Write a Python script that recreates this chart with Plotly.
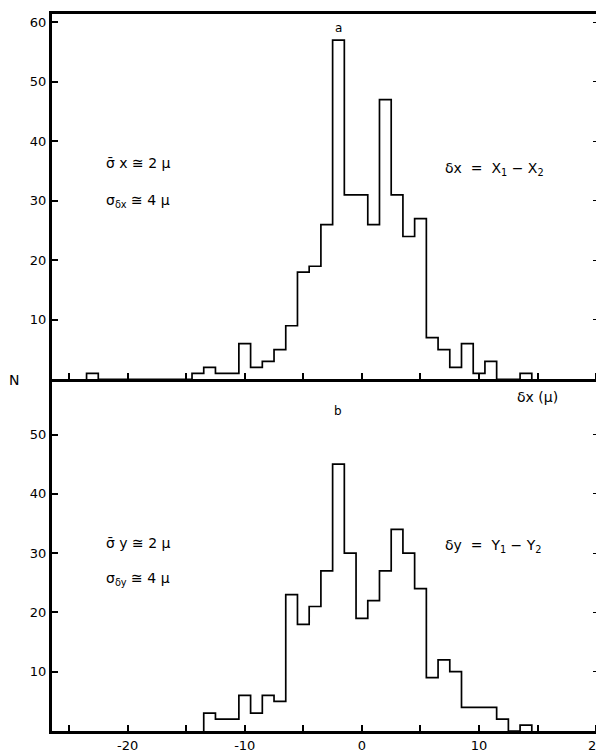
import plotly.graph_objects as go

# ---- data ----
# panel a: delta x histogram, 1-micron bins centred on integers
bins_a = list(range(-23, 15))
counts_a = [1, 0, 0, 0, 0, 0, 0, 0, 0, 1, 2, 1, 1, 6, 2, 3, 5, 9, 18, 19, 26,
            57, 31, 31, 26, 47, 31, 24, 27, 7, 5, 2, 6, 1, 3, 0, 0, 1]
# panel b: delta y histogram
bins_b = list(range(-13, 15))
counts_b = [3, 2, 2, 6, 3, 6, 5, 23, 18, 21, 27, 45, 30, 19, 22, 27, 34, 30,
            24, 9, 12, 10, 4, 4, 4, 2, 0, 1]

x_ticks = [-25, -20, -15, -10, -5, 0, 5, 10, 15, 20]
x_ticktext = ["", "-20", "", "-10", "", "0", "", "10", "", "20"]
y_ticks_a = [10, 20, 30, 40, 50, 60]
y_ticks_b = [10, 20, 30, 40, 50]


def step_xy(centers, counts, width=1.0):
    edges = [c - width / 2 for c in centers] + [centers[-1] + width / 2]
    xs = [edges[0]] + edges
    ys = [0] + list(counts) + [0]
    return xs, ys


FONT = "DejaVu Sans"
fig = go.Figure()

xa, ya = step_xy(bins_a, counts_a)
xb, yb = step_xy(bins_b, counts_b)
fig.add_trace(go.Scatter(x=xa, y=ya, mode="lines", line=dict(shape="hv", color="black", width=1.7),
                         xaxis="x", yaxis="y", showlegend=False, hoverinfo="skip"))
fig.add_trace(go.Scatter(x=xb, y=yb, mode="lines", line=dict(shape="hv", color="black", width=1.7),
                         xaxis="x2", yaxis="y2", showlegend=False, hoverinfo="skip"))
# empty traces so the right-hand tick axes are drawn
fig.add_trace(go.Scatter(x=[], y=[], xaxis="x", yaxis="y3", showlegend=False, hoverinfo="skip"))
fig.add_trace(go.Scatter(x=[], y=[], xaxis="x2", yaxis="y4", showlegend=False, hoverinfo="skip"))

XR = [-26.45, 20.15]
YR_A = [0, 61.4]
YR_B = [0, 59.2]
axis_common = dict(showline=True, linecolor="black", linewidth=3, ticks="inside",
                   ticklen=6, tickwidth=1.5, tickcolor="black", showgrid=False, zeroline=False,
                   tickfont=dict(family=FONT, size=13, color="black"))
right_ticks = dict(showline=False, ticks="inside", ticklen=5, tickwidth=1.3, tickcolor="black",
                   showgrid=False, zeroline=False, showticklabels=False, side="right")

# page body has an 8px margin; figure is sized so the plot lands where the reference has it
W, H = 596, 748
L, T, B = 44, 6, 25
fig.update_layout(
    width=W, height=H,
    margin=dict(l=L, r=0, t=T, b=B),
    paper_bgcolor="white", plot_bgcolor="white",
    font=dict(family=FONT, color="black"),
    xaxis=dict(domain=[0, 1], range=XR, anchor="y", tickvals=x_ticks, showticklabels=False,
               mirror=True, **axis_common),
    yaxis=dict(domain=[0.4905, 1], range=YR_A, anchor="x", tickvals=y_ticks_a, **axis_common),
    yaxis3=dict(overlaying="y", anchor="x", range=YR_A, tickvals=y_ticks_a, **right_ticks),
    xaxis2=dict(domain=[0, 1], range=XR, anchor="y2", tickvals=x_ticks, ticktext=x_ticktext,
                ticklabeloverflow="allow", **axis_common),
    yaxis2=dict(domain=[0, 0.4895], range=YR_B, anchor="x2", tickvals=y_ticks_b, **axis_common),
    yaxis4=dict(overlaying="y2", anchor="x2", range=YR_B, tickvals=y_ticks_b, **right_ticks),
)

tf = dict(family=FONT, size=14, color="black")
sf = dict(family=FONT, size=12, color="black")
ann = [
    dict(text="a", x=-2, y=59.0, xref="x", yref="y", xanchor="center", font=sf),
    dict(text="σ̄ x ≅ 2 μ", x=-22.0, y=36.3, xref="x", yref="y", xanchor="left", font=tf),
    dict(text="σ<sub>δx</sub> ≅ 4 μ", x=-22.0, y=30.0, xref="x", yref="y", xanchor="left", font=tf),
    dict(text="δx  =  X<sub>1</sub> − X<sub>2</sub>", x=6.9, y=35.4, xref="x", yref="y",
         xanchor="left", font=tf),
    dict(text="δx (μ)", x=13.1, y=56.3, xref="x2", yref="y2", xanchor="left", font=tf),
    dict(text="b", x=-2, y=54.0, xref="x2", yref="y2", xanchor="center", font=sf),
    dict(text="σ̄ y ≅ 2 μ", x=-22.0, y=31.7, xref="x2", yref="y2", xanchor="left", font=tf),
    dict(text="σ<sub>δy</sub> ≅ 4 μ", x=-22.0, y=25.6, xref="x2", yref="y2", xanchor="left", font=tf),
    dict(text="δy  =  Y<sub>1</sub> − Y<sub>2</sub>", x=6.9, y=31.2, xref="x2", yref="y2",
         xanchor="left", font=tf),
    dict(text="δy (μ)", x=12.9, y=-2.9, xref="x2", yref="y2", xanchor="left", font=tf),
]
for a in ann:
    a["showarrow"] = False
# "N" label: placed in paper fractions from its pixel position in the reference
plot_w, plot_h = W - L, H - T - B
ann.append(dict(text="N", showarrow=False, xref="paper", yref="paper",
                x=(14 - 8 - L) / plot_w, y=(731 - 380) / plot_h,
                xanchor="center", yanchor="middle", font=dict(family=FONT, size=14, color="black")))
fig.update_layout(annotations=ann)

fig.write_html("out.html")
